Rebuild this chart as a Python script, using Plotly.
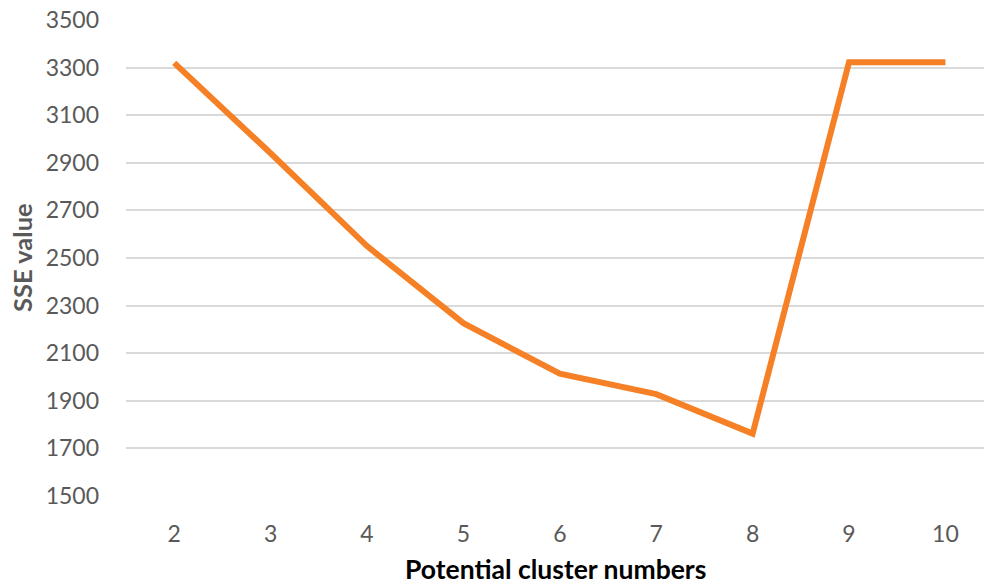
import plotly.graph_objects as go

clusters = [2, 3, 4, 5, 6, 7, 8, 9, 10]
sse_values = [3320, 2940, 2550, 2226, 2014, 1928, 1762, 3322, 3322]
y_ticks = [1500, 1700, 1900, 2100, 2300, 2500, 2700, 2900, 3100, 3300, 3500]

fig = go.Figure()
fig.add_trace(go.Scatter(
    x=clusters, y=sse_values, mode="lines",
    line=dict(color="#F58025", width=6),
    showlegend=False,
))

font_family = "Lato, 'Open Sans', sans-serif"
fig.update_layout(
    width=984, height=585,
    margin=dict(l=126, r=0, t=20, b=89),
    paper_bgcolor="white", plot_bgcolor="white",
    font=dict(family=font_family, color="#595959", size=23),
    xaxis=dict(
        range=[1.5, 10.4], tickmode="array", tickvals=clusters,
        ticktext=[str(c) for c in clusters],
        showgrid=False, zeroline=False, showline=False,
        ticks="", ticklabelstandoff=22,
        tickfont=dict(size=23, color="#595959"),
    ),
    yaxis=dict(
        range=[1500, 3500], tickmode="array", tickvals=y_ticks,
        showgrid=True, gridcolor="#D9D9D9", gridwidth=2,
        zeroline=False, showline=False, ticks="", ticklabelstandoff=26,
        tickfont=dict(size=23, color="#595959"),
    ),
    annotations=[
        dict(text="<b>Potential cluster numbers</b>", xref="paper", yref="paper",
             x=0.5, y=-0.16, yshift=3, xanchor="center", yanchor="middle", showarrow=False,
             font=dict(size=26.5, color="#000000", family=font_family)),
        dict(text="<b>SSE value</b>", xref="paper", yref="paper",
             x=-0.1212, y=0.50, xanchor="center", yanchor="middle",
             textangle=-90, showarrow=False,
             font=dict(size=25.5, color="#595959", family=font_family)),
    ],
)
fig.write_html("out.html", config={"displayModeBar": False})

with open("out.html", "r", encoding="utf-8") as f:
    html = f.read()
html = html.replace("<body>", '<body style="margin:0;padding:0;overflow:hidden">', 1)
with open("out.html", "w", encoding="utf-8") as f:
    f.write(html)
